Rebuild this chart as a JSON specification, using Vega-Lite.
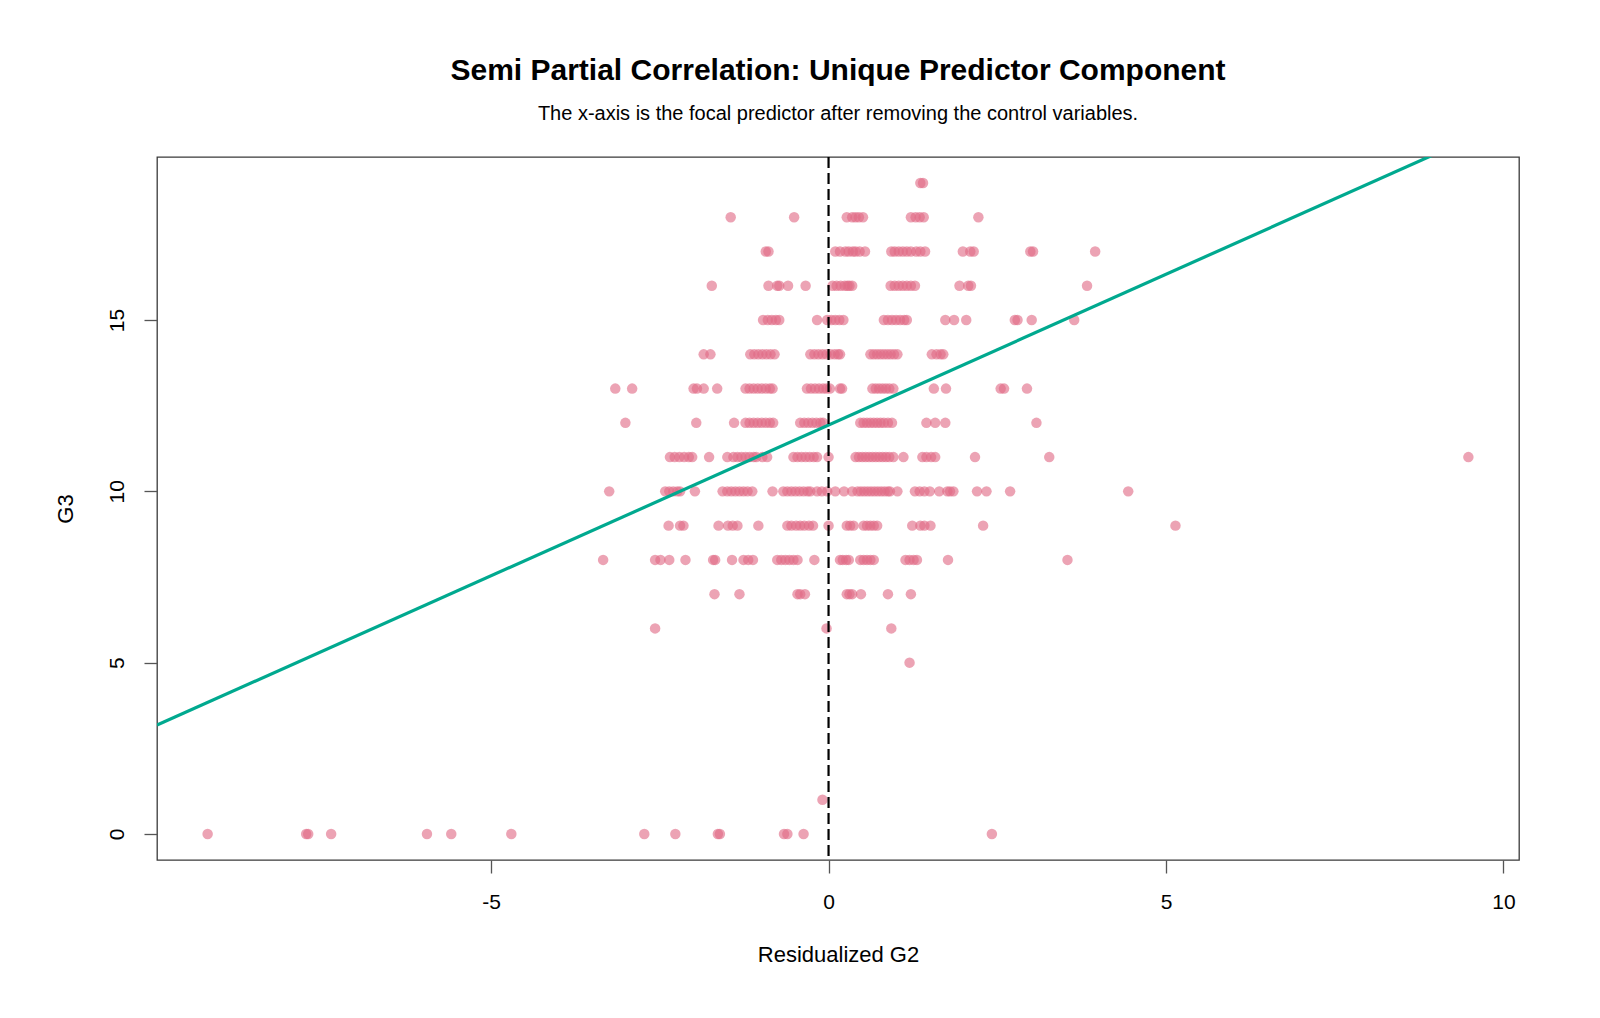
{
  "$schema": "https://vega.github.io/schema/vega-lite/v6.json",
  "width": 1362,
  "height": 703,
  "autosize": {"type": "none"},
  "padding": {"left": 157, "top": 157, "right": 81, "bottom": 158},
  "background": "white",
  "config": {
    "view": {"stroke": "#3a3a3a", "strokeWidth": 1.3},
    "font": "Liberation Sans"
  },
  "title": {
    "text": "Semi Partial Correlation: Unique Predictor Component",
    "subtitle": "The x-axis is the focal predictor after removing the control variables.",
    "anchor": "middle",
    "frame": "group",
    "font": "Liberation Sans",
    "fontSize": 30,
    "fontWeight": "bold",
    "color": "black",
    "subtitleFont": "Liberation Sans",
    "subtitleFontSize": 20,
    "subtitleColor": "black",
    "subtitlePadding": 18,
    "offset": 32
  },
  "datasets": {
    "points": [
      {"g2r": 1.36, "g3": 19}, {"g2r": 1.40, "g3": 19},
      {"g2r": -1.45, "g3": 18}, {"g2r": -0.51, "g3": 18}, {"g2r": 0.27, "g3": 18}, {"g2r": 0.35, "g3": 18}, {"g2r": 0.40, "g3": 18}, {"g2r": 0.45, "g3": 18}, {"g2r": 0.51, "g3": 18}, {"g2r": 1.22, "g3": 18}, {"g2r": 1.29, "g3": 18}, {"g2r": 1.35, "g3": 18}, {"g2r": 1.41, "g3": 18}, {"g2r": 2.22, "g3": 18},
      {"g2r": -0.93, "g3": 17}, {"g2r": -0.89, "g3": 17}, {"g2r": 0.10, "g3": 17}, {"g2r": 0.17, "g3": 17}, {"g2r": 0.25, "g3": 17}, {"g2r": 0.30, "g3": 17}, {"g2r": 0.36, "g3": 17}, {"g2r": 0.40, "g3": 17}, {"g2r": 0.46, "g3": 17}, {"g2r": 0.54, "g3": 17}, {"g2r": 0.93, "g3": 17}, {"g2r": 0.98, "g3": 17}, {"g2r": 1.04, "g3": 17}, {"g2r": 1.10, "g3": 17}, {"g2r": 1.16, "g3": 17}, {"g2r": 1.22, "g3": 17}, {"g2r": 1.30, "g3": 17}, {"g2r": 1.36, "g3": 17}, {"g2r": 1.43, "g3": 17}, {"g2r": 1.99, "g3": 17}, {"g2r": 2.10, "g3": 17}, {"g2r": 2.15, "g3": 17}, {"g2r": 2.99, "g3": 17}, {"g2r": 3.03, "g3": 17}, {"g2r": 3.95, "g3": 17},
      {"g2r": -1.73, "g3": 16}, {"g2r": -0.89, "g3": 16}, {"g2r": -0.76, "g3": 16}, {"g2r": -0.73, "g3": 16}, {"g2r": -0.60, "g3": 16}, {"g2r": -0.34, "g3": 16}, {"g2r": 0.06, "g3": 16}, {"g2r": 0.12, "g3": 16}, {"g2r": 0.18, "g3": 16}, {"g2r": 0.24, "g3": 16}, {"g2r": 0.28, "g3": 16}, {"g2r": 0.31, "g3": 16}, {"g2r": 0.35, "g3": 16}, {"g2r": 0.92, "g3": 16}, {"g2r": 0.98, "g3": 16}, {"g2r": 1.04, "g3": 16}, {"g2r": 1.10, "g3": 16}, {"g2r": 1.16, "g3": 16}, {"g2r": 1.22, "g3": 16}, {"g2r": 1.28, "g3": 16}, {"g2r": 1.94, "g3": 16}, {"g2r": 2.07, "g3": 16}, {"g2r": 2.11, "g3": 16}, {"g2r": 3.83, "g3": 16},
      {"g2r": -0.97, "g3": 15}, {"g2r": -0.90, "g3": 15}, {"g2r": -0.84, "g3": 15}, {"g2r": -0.78, "g3": 15}, {"g2r": -0.73, "g3": 15}, {"g2r": -0.17, "g3": 15}, {"g2r": -0.02, "g3": 15}, {"g2r": 0.04, "g3": 15}, {"g2r": 0.10, "g3": 15}, {"g2r": 0.16, "g3": 15}, {"g2r": 0.22, "g3": 15}, {"g2r": 0.82, "g3": 15}, {"g2r": 0.88, "g3": 15}, {"g2r": 0.94, "g3": 15}, {"g2r": 1.00, "g3": 15}, {"g2r": 1.06, "g3": 15}, {"g2r": 1.12, "g3": 15}, {"g2r": 1.16, "g3": 15}, {"g2r": 1.73, "g3": 15}, {"g2r": 1.86, "g3": 15}, {"g2r": 2.04, "g3": 15}, {"g2r": 2.76, "g3": 15}, {"g2r": 2.80, "g3": 15}, {"g2r": 3.01, "g3": 15}, {"g2r": 3.64, "g3": 15},
      {"g2r": -1.85, "g3": 14}, {"g2r": -1.75, "g3": 14}, {"g2r": -1.16, "g3": 14}, {"g2r": -1.10, "g3": 14}, {"g2r": -1.04, "g3": 14}, {"g2r": -0.98, "g3": 14}, {"g2r": -0.92, "g3": 14}, {"g2r": -0.86, "g3": 14}, {"g2r": -0.80, "g3": 14}, {"g2r": -0.27, "g3": 14}, {"g2r": -0.21, "g3": 14}, {"g2r": -0.15, "g3": 14}, {"g2r": -0.09, "g3": 14}, {"g2r": -0.03, "g3": 14}, {"g2r": 0.03, "g3": 14}, {"g2r": 0.09, "g3": 14}, {"g2r": 0.14, "g3": 14}, {"g2r": 0.17, "g3": 14}, {"g2r": 0.62, "g3": 14}, {"g2r": 0.67, "g3": 14}, {"g2r": 0.72, "g3": 14}, {"g2r": 0.77, "g3": 14}, {"g2r": 0.82, "g3": 14}, {"g2r": 0.87, "g3": 14}, {"g2r": 0.92, "g3": 14}, {"g2r": 0.97, "g3": 14}, {"g2r": 1.02, "g3": 14}, {"g2r": 1.53, "g3": 14}, {"g2r": 1.60, "g3": 14}, {"g2r": 1.66, "g3": 14}, {"g2r": 1.70, "g3": 14},
      {"g2r": -3.16, "g3": 13}, {"g2r": -2.91, "g3": 13}, {"g2r": -2.00, "g3": 13}, {"g2r": -1.95, "g3": 13}, {"g2r": -1.85, "g3": 13}, {"g2r": -1.65, "g3": 13}, {"g2r": -1.23, "g3": 13}, {"g2r": -1.17, "g3": 13}, {"g2r": -1.11, "g3": 13}, {"g2r": -1.05, "g3": 13}, {"g2r": -0.99, "g3": 13}, {"g2r": -0.93, "g3": 13}, {"g2r": -0.87, "g3": 13}, {"g2r": -0.83, "g3": 13}, {"g2r": -0.32, "g3": 13}, {"g2r": -0.26, "g3": 13}, {"g2r": -0.20, "g3": 13}, {"g2r": -0.14, "g3": 13}, {"g2r": -0.08, "g3": 13}, {"g2r": -0.03, "g3": 13}, {"g2r": 0.02, "g3": 13}, {"g2r": 0.17, "g3": 13}, {"g2r": 0.20, "g3": 13}, {"g2r": 0.65, "g3": 13}, {"g2r": 0.70, "g3": 13}, {"g2r": 0.75, "g3": 13}, {"g2r": 0.80, "g3": 13}, {"g2r": 0.85, "g3": 13}, {"g2r": 0.90, "g3": 13}, {"g2r": 0.96, "g3": 13}, {"g2r": 1.56, "g3": 13}, {"g2r": 1.74, "g3": 13}, {"g2r": 2.55, "g3": 13}, {"g2r": 2.60, "g3": 13}, {"g2r": 2.94, "g3": 13},
      {"g2r": -3.01, "g3": 12}, {"g2r": -1.96, "g3": 12}, {"g2r": -1.40, "g3": 12}, {"g2r": -1.23, "g3": 12}, {"g2r": -1.17, "g3": 12}, {"g2r": -1.11, "g3": 12}, {"g2r": -1.05, "g3": 12}, {"g2r": -0.99, "g3": 12}, {"g2r": -0.93, "g3": 12}, {"g2r": -0.87, "g3": 12}, {"g2r": -0.82, "g3": 12}, {"g2r": -0.42, "g3": 12}, {"g2r": -0.36, "g3": 12}, {"g2r": -0.30, "g3": 12}, {"g2r": -0.24, "g3": 12}, {"g2r": -0.18, "g3": 12}, {"g2r": -0.12, "g3": 12}, {"g2r": -0.08, "g3": 12}, {"g2r": 0.47, "g3": 12}, {"g2r": 0.52, "g3": 12}, {"g2r": 0.57, "g3": 12}, {"g2r": 0.62, "g3": 12}, {"g2r": 0.67, "g3": 12}, {"g2r": 0.72, "g3": 12}, {"g2r": 0.77, "g3": 12}, {"g2r": 0.82, "g3": 12}, {"g2r": 0.88, "g3": 12}, {"g2r": 0.94, "g3": 12}, {"g2r": 1.45, "g3": 12}, {"g2r": 1.58, "g3": 12}, {"g2r": 1.73, "g3": 12}, {"g2r": 3.08, "g3": 12},
      {"g2r": -2.35, "g3": 11}, {"g2r": -2.28, "g3": 11}, {"g2r": -2.21, "g3": 11}, {"g2r": -2.14, "g3": 11}, {"g2r": -2.07, "g3": 11}, {"g2r": -2.02, "g3": 11}, {"g2r": -1.77, "g3": 11}, {"g2r": -1.50, "g3": 11}, {"g2r": -1.41, "g3": 11}, {"g2r": -1.35, "g3": 11}, {"g2r": -1.29, "g3": 11}, {"g2r": -1.23, "g3": 11}, {"g2r": -1.17, "g3": 11}, {"g2r": -1.11, "g3": 11}, {"g2r": -1.07, "g3": 11}, {"g2r": -0.98, "g3": 11}, {"g2r": -0.91, "g3": 11}, {"g2r": -0.52, "g3": 11}, {"g2r": -0.46, "g3": 11}, {"g2r": -0.40, "g3": 11}, {"g2r": -0.34, "g3": 11}, {"g2r": -0.28, "g3": 11}, {"g2r": -0.22, "g3": 11}, {"g2r": -0.17, "g3": 11}, {"g2r": 0.00, "g3": 11}, {"g2r": 0.40, "g3": 11}, {"g2r": 0.45, "g3": 11}, {"g2r": 0.50, "g3": 11}, {"g2r": 0.55, "g3": 11}, {"g2r": 0.60, "g3": 11}, {"g2r": 0.65, "g3": 11}, {"g2r": 0.70, "g3": 11}, {"g2r": 0.75, "g3": 11}, {"g2r": 0.80, "g3": 11}, {"g2r": 0.85, "g3": 11}, {"g2r": 0.90, "g3": 11}, {"g2r": 0.96, "g3": 11}, {"g2r": 1.11, "g3": 11}, {"g2r": 1.39, "g3": 11}, {"g2r": 1.45, "g3": 11}, {"g2r": 1.52, "g3": 11}, {"g2r": 1.58, "g3": 11}, {"g2r": 2.17, "g3": 11}, {"g2r": 3.27, "g3": 11}, {"g2r": 9.48, "g3": 11},
      {"g2r": -3.25, "g3": 10}, {"g2r": -2.42, "g3": 10}, {"g2r": -2.36, "g3": 10}, {"g2r": -2.30, "g3": 10}, {"g2r": -2.24, "g3": 10}, {"g2r": -2.20, "g3": 10}, {"g2r": -1.98, "g3": 10}, {"g2r": -1.57, "g3": 10}, {"g2r": -1.50, "g3": 10}, {"g2r": -1.44, "g3": 10}, {"g2r": -1.38, "g3": 10}, {"g2r": -1.32, "g3": 10}, {"g2r": -1.26, "g3": 10}, {"g2r": -1.20, "g3": 10}, {"g2r": -1.13, "g3": 10}, {"g2r": -0.83, "g3": 10}, {"g2r": -0.67, "g3": 10}, {"g2r": -0.61, "g3": 10}, {"g2r": -0.55, "g3": 10}, {"g2r": -0.49, "g3": 10}, {"g2r": -0.43, "g3": 10}, {"g2r": -0.37, "g3": 10}, {"g2r": -0.31, "g3": 10}, {"g2r": -0.27, "g3": 10}, {"g2r": -0.17, "g3": 10}, {"g2r": -0.10, "g3": 10}, {"g2r": -0.02, "g3": 10}, {"g2r": 0.10, "g3": 10}, {"g2r": 0.23, "g3": 10}, {"g2r": 0.35, "g3": 10}, {"g2r": 0.43, "g3": 10}, {"g2r": 0.48, "g3": 10}, {"g2r": 0.53, "g3": 10}, {"g2r": 0.58, "g3": 10}, {"g2r": 0.63, "g3": 10}, {"g2r": 0.68, "g3": 10}, {"g2r": 0.73, "g3": 10}, {"g2r": 0.78, "g3": 10}, {"g2r": 0.83, "g3": 10}, {"g2r": 0.88, "g3": 10}, {"g2r": 0.91, "g3": 10}, {"g2r": 1.02, "g3": 10}, {"g2r": 1.28, "g3": 10}, {"g2r": 1.35, "g3": 10}, {"g2r": 1.42, "g3": 10}, {"g2r": 1.50, "g3": 10}, {"g2r": 1.64, "g3": 10}, {"g2r": 1.76, "g3": 10}, {"g2r": 1.80, "g3": 10}, {"g2r": 1.85, "g3": 10}, {"g2r": 2.20, "g3": 10}, {"g2r": 2.34, "g3": 10}, {"g2r": 2.69, "g3": 10}, {"g2r": 4.44, "g3": 10},
      {"g2r": -2.37, "g3": 9}, {"g2r": -2.20, "g3": 9}, {"g2r": -2.15, "g3": 9}, {"g2r": -1.63, "g3": 9}, {"g2r": -1.49, "g3": 9}, {"g2r": -1.42, "g3": 9}, {"g2r": -1.35, "g3": 9}, {"g2r": -1.04, "g3": 9}, {"g2r": -0.61, "g3": 9}, {"g2r": -0.55, "g3": 9}, {"g2r": -0.48, "g3": 9}, {"g2r": -0.42, "g3": 9}, {"g2r": -0.36, "g3": 9}, {"g2r": -0.29, "g3": 9}, {"g2r": -0.23, "g3": 9}, {"g2r": 0.00, "g3": 9}, {"g2r": 0.27, "g3": 9}, {"g2r": 0.32, "g3": 9}, {"g2r": 0.37, "g3": 9}, {"g2r": 0.52, "g3": 9}, {"g2r": 0.57, "g3": 9}, {"g2r": 0.62, "g3": 9}, {"g2r": 0.67, "g3": 9}, {"g2r": 0.72, "g3": 9}, {"g2r": 1.24, "g3": 9}, {"g2r": 1.36, "g3": 9}, {"g2r": 1.42, "g3": 9}, {"g2r": 1.51, "g3": 9}, {"g2r": 2.29, "g3": 9}, {"g2r": 5.14, "g3": 9},
      {"g2r": -3.34, "g3": 8}, {"g2r": -2.57, "g3": 8}, {"g2r": -2.49, "g3": 8}, {"g2r": -2.36, "g3": 8}, {"g2r": -2.12, "g3": 8}, {"g2r": -1.71, "g3": 8}, {"g2r": -1.68, "g3": 8}, {"g2r": -1.43, "g3": 8}, {"g2r": -1.26, "g3": 8}, {"g2r": -1.19, "g3": 8}, {"g2r": -1.12, "g3": 8}, {"g2r": -0.76, "g3": 8}, {"g2r": -0.70, "g3": 8}, {"g2r": -0.64, "g3": 8}, {"g2r": -0.58, "g3": 8}, {"g2r": -0.52, "g3": 8}, {"g2r": -0.46, "g3": 8}, {"g2r": -0.21, "g3": 8}, {"g2r": 0.17, "g3": 8}, {"g2r": 0.21, "g3": 8}, {"g2r": 0.26, "g3": 8}, {"g2r": 0.30, "g3": 8}, {"g2r": 0.47, "g3": 8}, {"g2r": 0.52, "g3": 8}, {"g2r": 0.57, "g3": 8}, {"g2r": 0.62, "g3": 8}, {"g2r": 0.67, "g3": 8}, {"g2r": 1.14, "g3": 8}, {"g2r": 1.20, "g3": 8}, {"g2r": 1.26, "g3": 8}, {"g2r": 1.31, "g3": 8}, {"g2r": 1.77, "g3": 8}, {"g2r": 3.54, "g3": 8},
      {"g2r": -1.69, "g3": 7}, {"g2r": -1.32, "g3": 7}, {"g2r": -0.46, "g3": 7}, {"g2r": -0.42, "g3": 7}, {"g2r": -0.35, "g3": 7}, {"g2r": 0.27, "g3": 7}, {"g2r": 0.31, "g3": 7}, {"g2r": 0.35, "g3": 7}, {"g2r": 0.48, "g3": 7}, {"g2r": 0.88, "g3": 7}, {"g2r": 1.22, "g3": 7},
      {"g2r": -2.57, "g3": 6}, {"g2r": -0.03, "g3": 6}, {"g2r": 0.93, "g3": 6},
      {"g2r": 1.20, "g3": 5},
      {"g2r": -0.09, "g3": 1},
      {"g2r": -9.20, "g3": 0}, {"g2r": -7.74, "g3": 0}, {"g2r": -7.71, "g3": 0}, {"g2r": -7.37, "g3": 0}, {"g2r": -5.95, "g3": 0}, {"g2r": -5.59, "g3": 0}, {"g2r": -4.70, "g3": 0}, {"g2r": -2.73, "g3": 0}, {"g2r": -2.27, "g3": 0}, {"g2r": -1.64, "g3": 0}, {"g2r": -1.61, "g3": 0}, {"g2r": -0.66, "g3": 0}, {"g2r": -0.61, "g3": 0}, {"g2r": -0.37, "g3": 0}, {"g2r": 2.42, "g3": 0}
    ],
    "fit": [
      {"g2r": -9.95, "g3": 3.18},
      {"g2r": 10.23, "g3": 20.94}
    ],
    "zero": [
      {"g2r": 0}
    ]
  },
  "layer": [
    {
      "data": {"name": "points"},
      "mark": {"type": "circle", "size": 110, "color": "#E16A86", "opacity": 0.62, "stroke": null},
      "encoding": {
        "x": {
          "field": "g2r", "type": "quantitative",
          "scale": {"domain": [-9.95, 10.23], "nice": false, "zero": false},
          "axis": {
            "title": "Residualized G2",
            "values": [-5, 0, 5, 10],
            "labelExpr": "'' + datum.value",
            "grid": false,
            "domain": false,
            "tickSize": 13,
            "tickColor": "#555555",
            "tickWidth": 1.3,
            "labelFontSize": 21,
            "labelFont": "Liberation Sans",
            "labelColor": "black",
            "labelBaseline": "middle",
            "labelPadding": 29,
            "labelFlush": false,
            "titleFontSize": 22,
            "titleFont": "Liberation Sans",
            "titleFontWeight": "normal",
            "titleColor": "black",
            "titleBaseline": "middle",
            "titleY": 94
          }
        },
        "y": {
          "field": "g3", "type": "quantitative",
          "scale": {"domain": [-0.76, 19.76], "nice": false, "zero": false},
          "axis": {
            "title": "G3",
            "values": [0, 5, 10, 15],
            "labelExpr": "'' + datum.value",
            "grid": false,
            "domain": false,
            "tickSize": 13,
            "tickColor": "#555555",
            "tickWidth": 1.3,
            "labelAngle": -90,
            "labelAlign": "center",
            "labelBaseline": "middle",
            "labelPadding": 27,
            "labelFlush": false,
            "labelFontSize": 21,
            "labelFont": "Liberation Sans",
            "labelColor": "black",
            "titleFontSize": 22,
            "titleFont": "Liberation Sans",
            "titleFontWeight": "normal",
            "titleColor": "black",
            "titleBaseline": "middle",
            "titleAngle": -90,
            "titleX": -92,
            "titleY": 351.5
          }
        }
      }
    },
    {
      "data": {"name": "fit"},
      "mark": {"type": "line", "color": "#00A98F", "strokeWidth": 3.2, "clip": true},
      "encoding": {
        "x": {"field": "g2r", "type": "quantitative"},
        "y": {"field": "g3", "type": "quantitative"}
      }
    },
    {
      "data": {"name": "zero"},
      "mark": {"type": "rule", "color": "black", "strokeWidth": 2.2, "strokeDash": [11, 5]},
      "encoding": {
        "x": {"field": "g2r", "type": "quantitative"}
      }
    }
  ]
}
